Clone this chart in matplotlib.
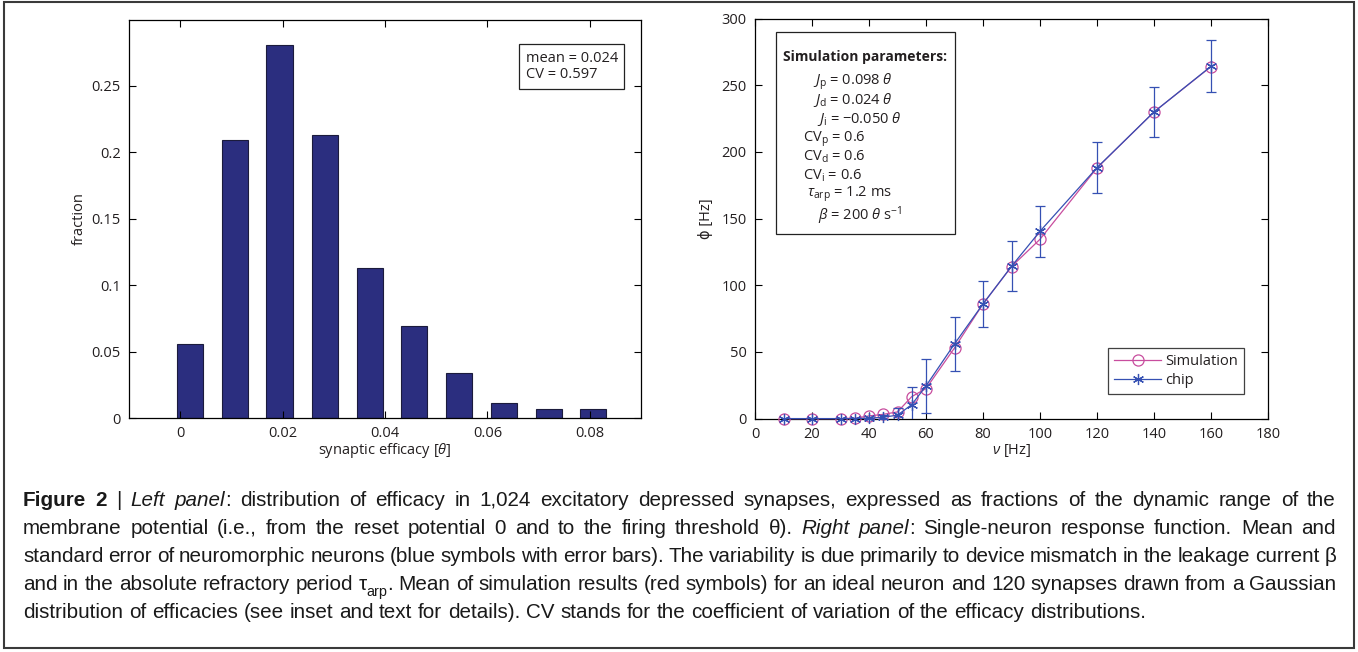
import matplotlib
matplotlib.use("Agg")
import matplotlib.pyplot as plt
from matplotlib.patches import Rectangle
from matplotlib.font_manager import FontProperties

# left panel: distribution of efficacy
efficacy = [0.0020, 0.0107, 0.0194, 0.0282, 0.0370, 0.0457, 0.0544, 0.0633, 0.0720, 0.0807]
fraction = [0.0558, 0.2090, 0.2807, 0.2128, 0.1131, 0.0696, 0.0342, 0.0113, 0.0068, 0.0068]
left_xticks = [0, 0.02, 0.04, 0.06, 0.08]
left_xticklabels = ["0", "0.02", "0.04", "0.06", "0.08"]
left_yticks = [0, 0.05, 0.1, 0.15, 0.2, 0.25]
left_yticklabels = ["0", "0.05", "0.1", "0.15", "0.2", "0.25"]

# right panel: single-neuron response function
nu = [10, 20, 30, 35, 40, 45, 50, 55, 60, 70, 80, 90, 100, 120, 140, 160]
phi_sim = [0, 0, 0, 0.3, 2, 3.2, 5, 16.5, 22.5, 53, 86, 114, 134.5, 188, 230, 264]
phi_chip = [0, 0, 0, 0, 0.3, 1, 2.6, 10.5, 24.5, 56, 86, 114.2, 140.5, 188.2, 230, 264.2]
chip_err = [0, 0, 0, 0, 0.5, 1.5, 5.5, 13.5, 20, 20, 17.5, 18.7, 19.3, 19, 19, 19.4]
right_xticks = [0, 20, 40, 60, 80, 100, 120, 140, 160, 180]
right_yticks = [0, 50, 100, 150, 200, 250, 300]

params = [
    r"$J_{\rm p}$ = 0.098 $\theta$",
    r"$J_{\rm d}$ = 0.024 $\theta$",
    r"$J_{\rm i}$ = −0.050 $\theta$",
    r"CV$_{\rm p}$ = 0.6",
    r"CV$_{\rm d}$ = 0.6",
    r"CV$_{\rm i}$ = 0.6",
    r"$\tau_{\rm arp}$ = 1.2 ms",
    r"$\beta$ = 200 $\theta$ s$^{-1}$",
]

caption = [
    [("Figure 2", "bold"), (" | ", "normal"), ("Left panel", "italic"),
     (": distribution of efficacy in 1,024 excitatory depressed synapses, expressed as fractions of the dynamic range of the", "normal")],
    [("membrane potential (i.e., from the reset potential 0 and to the firing threshold θ). ", "normal"),
     ("Right panel", "italic"), (": Single-neuron response function. Mean and", "normal")],
    [("standard error of neuromorphic neurons (blue symbols with error bars). The variability is due primarily to device mismatch in the leakage current β", "normal")],
    [("and in the absolute refractory period τ", "normal"), ("arp", "sub"),
     (". Mean of simulation results (red symbols) for an ideal neuron and 120 synapses drawn from a Gaussian", "normal")],
    [("distribution of efficacies (see inset and text for details). CV stands for the coefficient of variation of the efficacy distributions.", "normal")],
]

plt.rcParams["font.family"] = ["Open Sans", "DejaVu Sans"]
plt.rcParams["mathtext.fontset"] = "custom"
plt.rcParams["mathtext.rm"] = "Open Sans"
plt.rcParams["mathtext.it"] = "Open Sans:italic"
plt.rcParams["mathtext.bf"] = "Open Sans:bold"

W, H = 1358, 652
fig = plt.figure(figsize=(W / 100, H / 100), dpi=100)
txtc = "#231f20"
fs = 10.5


def px(x, y):
    return x / W, 1 - y / H


def style_axes(ax):
    ax.tick_params(direction="in", top=True, right=True, length=5, width=0.8,
                   labelsize=fs, labelcolor=txtc, pad=6)
    for s in ax.spines.values():
        s.set_linewidth(0.9)


# ---- left panel
ax1 = fig.add_axes([129 / W, 1 - 418 / H, 512 / W, 398 / H])
ax1.bar(efficacy, fraction, width=0.0051, color="#2b2e7f", edgecolor="#1b1b3c", linewidth=0.8)
ax1.set_xlim(-0.01, 0.09)
ax1.set_ylim(0, 0.2995)
ax1.set_xticks(left_xticks)
ax1.set_xticklabels(left_xticklabels)
ax1.set_yticks(left_yticks)
ax1.set_yticklabels(left_yticklabels)
style_axes(ax1)
ax1.set_xlabel(r"synaptic efficacy [$\theta$]", fontsize=fs, color=txtc, labelpad=0)
ax1.set_ylabel("fraction", fontsize=fs, color=txtc, labelpad=3)

fig.patches.append(Rectangle(px(519, 89), 105 / W, 45 / H, transform=fig.transFigure,
                             fill=False, lw=0.9, ec="#222"))
fig.text(*px(526, 59), "mean = 0.024", fontsize=fs, color=txtc, va="center")
fig.text(*px(526, 75), "CV = 0.597", fontsize=fs, color=txtc, va="center")

# ---- right panel
ax2 = fig.add_axes([755 / W, 1 - 418.6 / H, 513 / W, 400 / H])
sim_col = "#c84d9e"
chip_col = "#3550b3"
ax2.plot(nu, phi_sim, color=sim_col, lw=0.9, marker="o", ms=8, mfc="none",
         mec=sim_col, mew=0.9, label="Simulation", clip_on=False, zorder=3)
ax2.errorbar(nu, phi_chip, yerr=chip_err, fmt="none", ecolor=chip_col, elinewidth=0.9,
             capsize=3.3, capthick=0.9, errorevery=[e > 0 for e in chip_err], zorder=4)
ax2.plot(nu, phi_chip, color=chip_col, lw=0.9, marker=(6, 2, 0), ms=8, mec=chip_col,
         mew=0.9, label="chip", clip_on=False, zorder=5)
ax2.set_xlim(0, 180)
ax2.set_ylim(0, 300)
ax2.set_xticks(right_xticks)
ax2.set_yticks(right_yticks)
style_axes(ax2)
ax2.set_xlabel(r"$\nu$ [Hz]", fontsize=fs, color=txtc, labelpad=0)
ax2.set_ylabel("ϕ [Hz]", fontsize=fs, color=txtc, labelpad=5)
leg = ax2.legend(loc="lower right", bbox_to_anchor=(0.953, 0.0615), fontsize=fs,
                 frameon=True, fancybox=False, edgecolor="#111", handlelength=3.2,
                 borderpad=0.4, labelspacing=0.3, handletextpad=0.3, borderaxespad=0)
leg.get_frame().set_linewidth(0.9)
for t in leg.get_texts():
    t.set_color(txtc)

fig.patches.append(Rectangle(px(776, 234), 179 / W, 202 / H, transform=fig.transFigure,
                             fill=False, lw=0.9, ec="#222"))
fig.text(*px(865, 61), "Simulation parameters:", fontsize=10, weight="bold", color=txtc,
         ha="center", va="baseline")
param_x = [813, 813, 817, 803, 803, 803, 807, 818]
param_y = [85, 104, 123, 142, 161, 180, 197, 220]
for s, x, y in zip(params, param_x, param_y):
    fig.text(*px(x, y), s, fontsize=10.5, color=txtc, va="baseline")

# ---- caption, justified line by line
r = fig.canvas.get_renderer()
cap_family = ["Liberation Sans", "DejaVu Sans"]


def cprop(st, size):
    return FontProperties(family=cap_family, size=size * 0.7 if st == "sub" else size,
                          weight="bold" if st == "bold" else "normal",
                          style="italic" if st == "italic" else "normal")


def width(s, st, size):
    return r.get_text_width_height_descent(s, cprop(st, size), ismath=False)[0]


def words_of(runs):
    words = [[]]
    for txt, st in runs:
        parts = txt.split(" ")
        for k, p in enumerate(parts):
            if k > 0:
                words.append([])
            if p:
                words[-1].append((p, st))
    return [w for w in words if w]


def line_layout(runs, size):
    ws = words_of(runs)
    wl = [sum(width(p, st, size) for p, st in w) for w in ws]
    return ws, wl


cap_left, cap_right = 23, 1336
space = width("a a", "normal", 13) - width("aa", "normal", 13)
ws, wl = line_layout(caption[-1], 13)
natural = sum(wl) + space * (len(wl) - 1)
cap_size = 13 * 1117 / natural
space = width("a a", "normal", cap_size) - width("aa", "normal", cap_size)

baselines = [506, 534, 562, 590, 618]
for li, runs in enumerate(caption):
    ws, wl = line_layout(runs, cap_size)
    if li < len(caption) - 1:
        gap = (cap_right - cap_left - sum(wl)) / (len(wl) - 1)
    else:
        gap = space
    x = cap_left
    for w, wdt in zip(ws, wl):
        xx = x
        for p, st in w:
            y = baselines[li] + (cap_size * 0.3 * 100 / 72 if st == "sub" else 0)
            fig.text(*px(xx, y), p, fontproperties=cprop(st, cap_size), color="#1a1a1a",
                     ha="left", va="baseline")
            xx += width(p, st, cap_size)
        x += wdt + gap

fig.patches.append(Rectangle(px(4, 648), 1350 / W, 646 / H, transform=fig.transFigure,
                             fill=False, lw=1.5, ec="#3a3a3a"))

fig.savefig("out.png", dpi=100)
